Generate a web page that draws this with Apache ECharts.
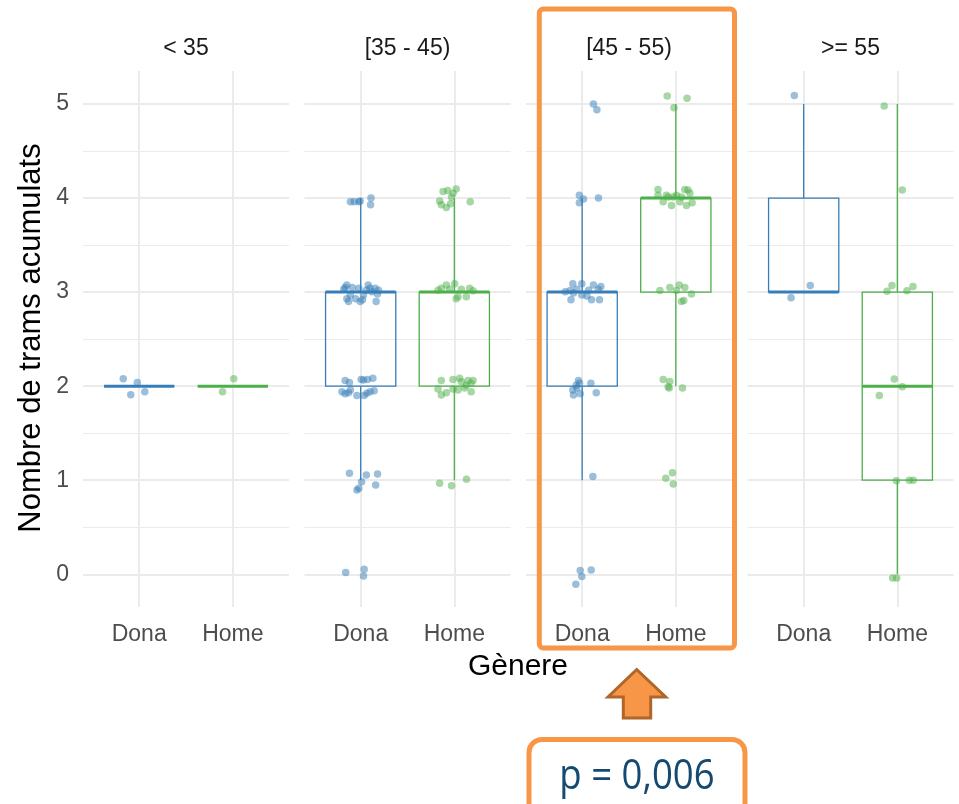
<!DOCTYPE html>
<html>
<head>
<meta charset="utf-8">
<script src="https://cdn.jsdelivr.net/npm/echarts@6/dist/echarts.min.js"></script>
<style>
html,body{margin:0;padding:0;background:#fff;}
#chart{width:959px;height:804px;}
</style>
</head>
<body>
<div id="chart"></div>
<script>
// ---------------- data ----------------
const facets = ['< 35', '[35 - 45)', '[45 - 55)', '>= 55'];
const genders = ['Dona', 'Home'];
const yMajorTicks = [0, 1, 2, 3, 4, 5];
const yMinorTicks = [0.5, 1.5, 2.5, 3.5, 4.5];
const yTitle = 'Nombre de trams acumulats';
const xTitle = 'Gènere';
const pLabel = 'p = 0,006';

// box stats per facet: [lower whisker, Q1, median, Q3, upper whisker]
const boxDona = [[2, 2, 2, 2, 2], [1, 2, 3, 3, 4], [1, 2, 3, 3, 4], [3, 3, 3, 4, 5]];
const boxHome = [[2, 2, 2, 2, 2], [1, 2, 3, 3, 4], [2, 3, 4, 4, 5], [0, 1, 2, 3, 5]];

// jittered points: [horizontal jitter offset, value]
const ptsDonaLt35 = [[-0.17, 2.08], [-0.02, 2.04], [-0.09, 1.91], [0.06, 1.94]];
const ptsHomeLt35 = [[0.01, 2.08], [-0.11, 1.94]];

const ptsDona35 = [
  [-0.11, 3.96], [-0.07, 3.96], [-0.02, 3.96], [-0.005, 3.97], [0.11, 4.00], [0.105, 3.93],
  [-0.166, 3.05], [-0.18, 3.03], [-0.148, 3.076], [-0.09, 3.05], [-0.148, 2.93], [-0.13, 2.90],
  [-0.055, 2.93], [-0.005, 2.90], [0.02, 2.92], [0.08, 3.076], [0.10, 3.04], [0.06, 3.02],
  [0.155, 3.04], [0.19, 3.02], [0.18, 2.98], [0.165, 2.90], [0.03, 2.97], [-0.02, 3.04],
  [0.12, 3.005], [-0.11, 2.97],
  [-0.166, 2.06], [-0.12, 2.04], [0.005, 2.07], [0.03, 2.065], [0.073, 2.07], [0.13, 2.084],
  [-0.20, 1.94], [-0.166, 1.92], [-0.13, 1.93], [-0.04, 1.90], [0.037, 1.90], [0.10, 1.94],
  [0.144, 1.95], [0.066, 1.925], [-0.11, 1.96],
  [-0.12, 1.074], [0.06, 1.056], [0.18, 1.066], [0.01, 0.985], [0.16, 0.95], [-0.04, 0.896], [-0.02, 0.914],
  [-0.16, 0.02], [0.037, 0.053], [0.03, -0.018]
];
const ptsHome35 = [
  [-0.12, 4.07], [-0.07, 4.08], [0.02, 4.096], [-0.03, 4.01], [-0.157, 3.97], [-0.139, 3.93],
  [-0.085, 3.90], [-0.04, 3.94], [0.17, 3.96], [-0.014, 4.05],
  [-0.085, 3.076], [0.004, 3.09], [-0.139, 3.04], [-0.05, 3.03], [0.164, 3.04], [0.2, 3.015],
  [0.02, 2.93], [0.04, 2.95], [0.128, 2.95], [-0.174, 3.02], [0.075, 3.03],
  [-0.139, 2.06], [-0.014, 2.07], [0.057, 2.084], [0.075, 2.048], [0.146, 2.06], [0.2, 2.06],
  [-0.174, 1.97], [-0.139, 1.906], [-0.085, 1.93], [-0.014, 1.97], [0.11, 1.98], [0.18, 1.94],
  [0.18, 2.03], [0.128, 2.01], [0.04, 1.96],
  [-0.157, 0.967], [-0.03, 0.94], [0.13, 1.01]
];

const ptsDona45 = [
  [0.12, 5.0], [0.157, 4.94],
  [-0.03, 4.03], [0.014, 3.99], [-0.03, 3.95], [0.174, 4.00],
  [-0.1, 3.09], [-0.004, 3.09], [-0.18, 3.005], [-0.128, 3.016], [-0.12, 2.92], [-0.004, 2.97],
  [0.05, 2.96], [0.1, 2.92], [0.185, 2.92], [0.12, 3.076], [0.2, 3.06], [0.174, 3.03],
  [0.068, 3.02], [-0.093, 2.99], [-0.057, 3.03],
  [-0.04, 2.06], [-0.028, 2.03], [-0.064, 2.01], [-0.1, 1.96], [-0.093, 1.906], [-0.021, 1.92],
  [0.093, 2.03], [0.15, 1.93], [-0.057, 1.98],
  [0.114, 1.04],
  [-0.021, 0.04], [0.096, 0.046], [-0.004, -0.025], [-0.068, -0.107]
];
const ptsHome45 = [
  [-0.092, 5.085], [0.12, 5.06], [-0.02, 4.96],
  [-0.19, 4.09], [-0.1, 4.03], [-0.028, 4.01], [0.096, 4.09], [0.13, 4.086], [0.15, 4.05],
  [-0.19, 4.03], [-0.135, 3.96], [-0.046, 3.92], [0.043, 3.96], [0.114, 3.92], [0.174, 3.95],
  [-0.082, 4.01], [0.007, 4.03], [0.06, 4.01],
  [-0.17, 3.016], [-0.064, 3.05], [0.036, 3.076], [0.096, 3.05], [0.007, 3.016], [0.167, 2.98],
  [0.06, 2.90], [0.085, 2.91],
  [-0.135, 2.07], [-0.064, 2.05], [-0.071, 1.98], [-0.082, 1.995], [0.071, 1.98],
  [-0.036, 1.08], [-0.107, 1.02], [-0.028, 0.96]
];

const ptsDona55 = [[-0.1, 5.09], [0.07, 3.07], [-0.135, 2.94]];
const ptsHome55 = [
  [-0.14, 4.98], [0.053, 4.086], [-0.057, 3.07], [-0.11, 3.01], [0.103, 3.015], [0.167, 3.06],
  [-0.032, 2.076], [0.053, 1.995], [-0.192, 1.90], [-0.01, 0.995], [0.128, 1.0], [0.17, 1.0],
  [-0.05, -0.04], [-0.007, -0.04]
];

const pointsDona = [ptsDonaLt35, ptsDona35, ptsDona45, ptsDona55];
const pointsHome = [ptsHomeLt35, ptsHome35, ptsHome45, ptsHome55];

// ---------------- styling / layout ----------------
const BLUE = '#377EB8';
const GREEN = '#4DAF4A';
const ORANGE = '#F79646';
const GRIDC = '#EBEBEB';
const FONT = "'Liberation Sans', Arial, sans-serif";
const panelLeft = [83, 304.5, 526, 747.5];
const panelW = 206, panelTop = 71, panelH = 536;
const yMin = -0.348, yMax = 5.351;
const xMin = 0.4, xMax = 2.6;

function renderBox(params, api) {
  const x = api.value(0);
  const pLo = api.coord([x, api.value(1)]);
  const pQ1 = api.coord([x, api.value(2)]);
  const pMed = api.coord([x, api.value(3)]);
  const pQ3 = api.coord([x, api.value(4)]);
  const pHi = api.coord([x, api.value(5)]);
  const w = api.size([0.75, 0])[0];
  const c = api.visual('color');
  const cx = pQ1[0];
  const lw = 1.3;
  return {
    type: 'group',
    children: [
      { type: 'line', shape: { x1: cx, y1: pLo[1], x2: cx, y2: pQ1[1] }, style: { stroke: c, lineWidth: lw } },
      { type: 'line', shape: { x1: cx, y1: pQ3[1], x2: cx, y2: pHi[1] }, style: { stroke: c, lineWidth: lw } },
      { type: 'rect', shape: { x: cx - w / 2, y: pQ3[1], width: w, height: pQ1[1] - pQ3[1] },
        style: { fill: 'none', stroke: c, lineWidth: lw } },
      { type: 'line', shape: { x1: cx - w / 2, y1: pMed[1], x2: cx + w / 2, y2: pMed[1] },
        style: { stroke: c, lineWidth: 3 } }
    ]
  };
}

const grids = [], xAxes = [], yAxes = [], series = [], graphics = [];
facets.forEach(function (name, i) {
  grids.push({ left: panelLeft[i], top: panelTop, width: panelW, height: panelH, containLabel: false });
  xAxes.push({
    type: 'value', gridIndex: i, min: xMin, max: xMax,
    axisLine: { show: false },
    axisTick: { show: false, customValues: [1, 2] },
    axisLabel: {
      customValues: [1, 2], margin: 16, fontSize: 23, color: '#4D4D4D', fontFamily: FONT,
      formatter: function (v) { return genders[Math.round(v) - 1]; }
    },
    splitLine: { show: true, lineStyle: { color: GRIDC, width: 2 } }
  });
  yAxes.push({
    type: 'value', gridIndex: i, min: yMin, max: yMax, position: 'left',
    axisLine: { show: false },
    axisTick: { show: false, customValues: yMajorTicks },
    axisLabel: {
      show: i === 0, customValues: yMajorTicks, margin: 14, fontSize: 23, color: '#4D4D4D', fontFamily: FONT
    },
    splitLine: { show: true, lineStyle: { color: GRIDC, width: 2 } }
  });
  yAxes.push({
    type: 'value', gridIndex: i, min: yMin, max: yMax, position: 'right',
    axisLine: { show: false },
    axisTick: { show: false, customValues: yMinorTicks },
    axisLabel: { show: false },
    splitLine: { show: true, lineStyle: { color: GRIDC, width: 1 } }
  });
  [[boxDona, BLUE, 1], [boxHome, GREEN, 2]].forEach(function (b) {
    series.push({
      type: 'custom', xAxisIndex: i, yAxisIndex: 2 * i, renderItem: renderBox,
      itemStyle: { color: b[1] }, z: 2, silent: true,
      encode: { x: 0, y: [1, 2, 3, 4, 5] },
      data: [[b[2]].concat(b[0][i])]
    });
  });
  [[pointsDona[i], BLUE, 1], [pointsHome[i], GREEN, 2]].forEach(function (p) {
    series.push({
      type: 'scatter', xAxisIndex: i, yAxisIndex: 2 * i, symbol: 'circle', symbolSize: 7.5,
      itemStyle: { color: p[1], opacity: 0.5 }, z: 3, silent: true,
      data: p[0].map(function (d) { return [p[2] + d[0], d[1]]; })
    });
  });
  graphics.push({
    type: 'text', x: panelLeft[i] + panelW / 2, y: 49,
    style: { text: name, font: '23px ' + FONT, fill: '#1A1A1A', textAlign: 'center', textVerticalAlign: 'middle' }
  });
});

// axis titles
graphics.push({
  type: 'text', x: 31, y: 338, rotation: Math.PI / 2,
  style: { text: yTitle, font: '31px ' + FONT, fill: '#000', textAlign: 'center', textVerticalAlign: 'middle' }
});
graphics.push({
  type: 'text', x: 518, y: 667,
  style: { text: xTitle, font: '30px ' + FONT, fill: '#000', textAlign: 'center', textVerticalAlign: 'middle' }
});
// highlight frame around third facet
graphics.push({
  type: 'rect', z: 100, shape: { x: 539.3, y: 9, width: 195.2, height: 639, r: 4 },
  style: { fill: 'none', stroke: ORANGE, lineWidth: 5 }
});
// arrow
graphics.push({
  type: 'polygon', z: 100,
  shape: { points: [[636.7, 669.5], [608, 697], [623.3, 697], [623.3, 718], [650.7, 718], [650.7, 697], [665.7, 697]] },
  style: { fill: ORANGE, stroke: '#B0652A', lineWidth: 3, lineJoin: 'miter' }
});
// p-value box
graphics.push({
  type: 'rect', z: 100, shape: { x: 529, y: 739.5, width: 216, height: 90, r: 13 },
  style: { fill: '#fff', stroke: ORANGE, lineWidth: 5 }
});
graphics.push({
  type: 'text', z: 101, x: 637, y: 777, scaleX: 0.87,
  style: { text: pLabel, font: "42px 'Open Sans', sans-serif", fill: '#154A70',
           textAlign: 'center', textVerticalAlign: 'middle' }
});

const chart = echarts.init(document.getElementById('chart'), null, { renderer: 'canvas' });
chart.setOption({
  animation: false,
  backgroundColor: '#fff',
  textStyle: { fontFamily: FONT },
  grid: grids,
  xAxis: xAxes,
  yAxis: yAxes,
  series: series,
  graphic: graphics
});
</script>
</body>
</html>
